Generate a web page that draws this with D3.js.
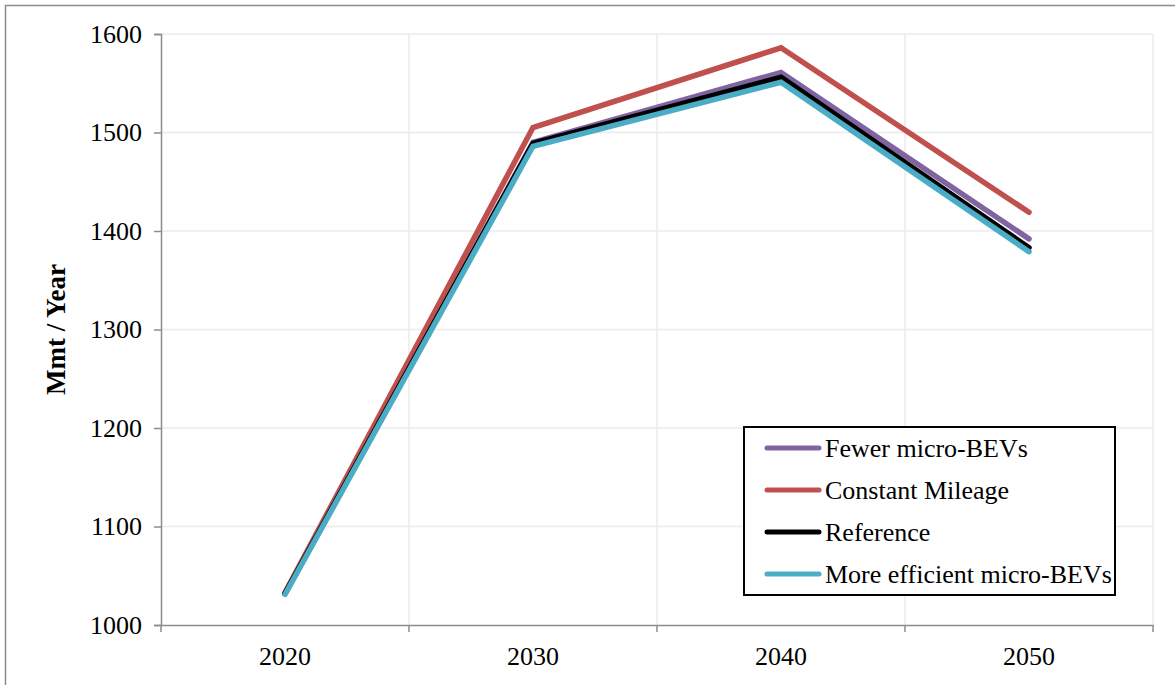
<!DOCTYPE html>
<html><head><meta charset="utf-8">
<script src="https://cdn.jsdelivr.net/npm/d3@7"></script>
<style>body{margin:0;background:#fff}svg{display:block}</style>
</head><body>
<svg id="c" width="1175" height="685"></svg>
<script>
const years = ["2020", "2030", "2040", "2050"];
const fewerMicroBEVs = [1032, 1490, 1561, 1392];
const constantMileage = [1033, 1505, 1586, 1419];
const reference = [1032, 1489, 1556, 1383];
const moreEfficient = [1031, 1486, 1551, 1379];
const seriesNames = ["Fewer micro-BEVs", "Constant Mileage", "Reference", "More efficient micro-BEVs"];
const seriesColors = ["#8064a2", "#c0504d", "#000000", "#4bacc6"];
const yTicks = [1000, 1100, 1200, 1300, 1400, 1500, 1600];

(function () {
const series = [fewerMicroBEVs, constantMileage, reference, moreEfficient].map((v, i) => ({name: seriesNames[i], color: seriesColors[i], values: v}));

const svg = d3.select("#c");
const font = "'Liberation Serif', serif";
svg.append("rect").attr("x", 5.5).attr("y", 5.5).attr("width", 1180).attr("height", 700)
  .attr("fill", "none").attr("stroke", "#8c8c8c").attr("stroke-width", 1.5);

const pl = 161, pr = 1153, pt = 34, pb = 625;
const x = d3.scaleBand().domain(years).range([pl, pr]);
const y = d3.scaleLinear().domain([1000, 1600]).range([pb, pt]);

svg.append("g").selectAll("line").data(yTicks.slice(1)).join("line")
  .attr("x1", pl).attr("x2", pr).attr("y1", d => y(d)).attr("y2", d => y(d))
  .attr("stroke", "#ebebeb").attr("stroke-width", 1.5);
svg.append("g").selectAll("line").data(years.map(d => x(d) + x.bandwidth())).join("line")
  .attr("x1", d => d).attr("x2", d => d).attr("y1", pt).attr("y2", pb)
  .attr("stroke", "#ebebeb").attr("stroke-width", 1.5);

const ya = svg.append("g").attr("transform", `translate(${pl},0)`)
  .call(d3.axisLeft(y).tickValues(yTicks).tickSize(7).tickPadding(12).tickFormat(d3.format("d")));
ya.select(".domain").attr("stroke", "#8c8c8c").attr("stroke-width", 1.5);
ya.selectAll(".tick line").attr("stroke", "#8c8c8c").attr("stroke-width", 1.5);
ya.selectAll("text").attr("font-family", font).attr("font-size", 26).attr("fill", "#000");

const xa = svg.append("g").attr("transform", `translate(0,${pb})`)
  .call(d3.axisBottom(x).tickSize(0).tickPadding(22));
xa.select(".domain").attr("stroke", "#8c8c8c").attr("stroke-width", 1.5);
xa.selectAll("text").attr("font-family", font).attr("font-size", 26).attr("fill", "#000");
xa.append("g").selectAll("line").data([pl].concat(years.map(d => x(d) + x.bandwidth()))).join("line")
  .attr("x1", d => d).attr("x2", d => d).attr("y1", 0).attr("y2", 7)
  .attr("stroke", "#8c8c8c").attr("stroke-width", 1.5);

svg.append("text").attr("transform", `translate(65,${(pt + pb) / 2}) rotate(-90)`)
  .attr("text-anchor", "middle").attr("font-family", font).attr("font-weight", "bold")
  .attr("font-size", 27).text("Mmt / Year");

const line = d3.line().x((d, i) => x(years[i]) + x.bandwidth() / 2).y(d => y(d));
svg.append("g").selectAll("path").data(series).join("path")
  .attr("d", d => line(d.values)).attr("fill", "none").attr("stroke", d => d.color)
  .attr("stroke-width", 5.5).attr("stroke-linecap", "round").attr("stroke-linejoin", "miter");

const lg = svg.append("g");
lg.append("rect").attr("x", 744).attr("y", 427).attr("width", 371).attr("height", 168)
  .attr("fill", "#fff").attr("stroke", "#000").attr("stroke-width", 2);
const items = lg.selectAll("g.it").data(series).join("g").attr("class", "it")
  .attr("transform", (d, i) => `translate(0,${448 + i * 42})`);
items.append("line").attr("x1", 767).attr("x2", 819).attr("y1", 0).attr("y2", 0)
  .attr("stroke", d => d.color).attr("stroke-width", 5).attr("stroke-linecap", "round");
items.append("text").attr("x", 825).attr("y", 0).attr("dy", "0.35em")
  .attr("font-family", font).attr("font-size", 26).text(d => d.name);
})();
</script>
</body></html>
